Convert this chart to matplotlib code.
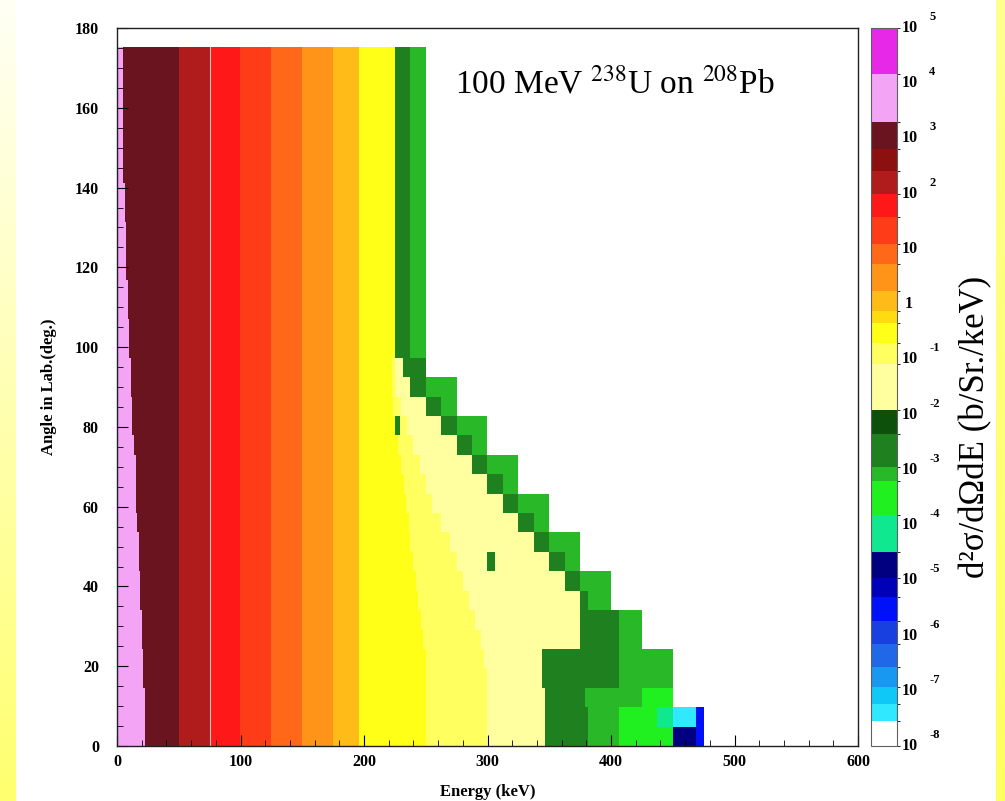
import numpy as np
import matplotlib
matplotlib.use("Agg")
import matplotlib.pyplot as plt
from matplotlib.colors import ListedColormap, BoundaryNorm, LinearSegmentedColormap
from matplotlib.cm import ScalarMappable

# ---------------------------------------------------------------- palette
# log10 boundaries of the palette steps (b/Sr./keV) and their colours
level_bounds = [-8, -7.55, -7.24, -6.94, -6.57, -6.16, -5.74, -5.31, -4.95,
                -4.49, -3.81, -3.21, -2.94, -2.36, -1.91, -1.08, -0.7, -0.35,
                -0.12, 0.24, 0.73, 1.09, 1.58, 2.0, 2.41, 2.81, 3.30, 4.17, 5]
level_colors = ['#ffffff', '#30e8ff', '#10c8f8', '#1898f0', '#2068e8',
                '#1840e0', '#0010f8', '#0000b8', '#000080', '#10e890',
                '#20f020', '#28b828', '#1e801e', '#0c500c', '#ffffa0',
                '#ffff60', '#ffff18', '#ffdc10', '#ffbc18', '#ff9418',
                '#ff6818', '#ff3c18', '#ff1818', '#b01c1c', '#8c1010',
                '#6a1420', '#f4a4f4', '#e828e8']

# ---------------------------------------------------------------- data
# angle rows: 36 bins from 0 to 175 deg, row 0 = most forward angles
n_rows = 36
angle_max = 175.0

# upper edge (keV) of the pink region in each row
pink_end = [23, 22.5, 22, 21.5, 21, 20, 19.5, 19, 18.5, 18, 17, 16.5,
            15.5, 15, 14.5, 13.5, 13, 12, 11.5, 11, 10.5, 10, 9, 8.5,
            8, 7.5, 7, 6.5, 6, 5, 5, 5, 5, 5, 5, 5]

# common energy bands (keV upper edge) and log10 cross section
band_upper = [50, 75, 100, 125, 150, 175, 196.25]
band_log = [3.0, 2.2, 1.8, 1.3, 0.9, 0.5, 0.0]

# yellow part: saturated up to yellow_end, lighter up to light_end,
# pale up to the start of the green edge cells
yellow_end = [250, 250, 250, 250, 250, 248, 246, 244, 242, 240, 238, 236,
              234, 232, 230, 228, 226, 224, 222, 222, 225, 225, 225, 225,
              225, 225, 225, 225, 225, 225, 225, 225, 225, 225, 225, 225]
light_end = [300, 300, 300, 300, 298, 295, 290, 285, 280, 275, 270, 262,
             255, 250, 245, 240, 235, 230, 226, 225, 225, 225, 225, 225,
             225, 225, 225, 225, 225, 225, 225, 225, 225, 225, 225, 225]
green_start = [346.25, 346.25, 346.25, 343.75, 343.75, 375, 375, 375,
               362.5, 350, 337.5, 325, 312.5, 300, 287.5, 275, 262.5,
               250, 237.5, 231.25, 225, 225, 225, 225, 225, 225, 225, 225,
               225, 225, 225, 225, 225, 225, 225, 225]
# cells along the kinematic edge: (upper edge keV, log10 value)
edge_cells = [
    [(381.25, -2.6), (406.25, -3.05), (450, -3.5), (468.75, -4.7), (475, -5.5)],
    [(381.25, -2.6), (406.25, -3.05), (437.5, -3.5), (450, -4.1), (468.75, -7.4), (475, -5.5)],
    [(378.75, -2.6), (425, -3.05), (450, -3.5)],
    [(406.25, -2.6), (450, -3.05)],
    [(406.25, -2.6), (450, -3.05)],
    [(406.25, -2.6), (425, -3.05)],
    [(406.25, -2.6), (425, -3.05)],
    [(381.25, -2.6), (400, -3.05)],
    [(375, -2.6), (400, -3.05)],
    [(362.5, -2.6), (375, -3.05)],
    [(350, -2.6), (375, -3.05)],
    [(337.5, -2.6), (350, -3.05)],
    [(325, -2.6), (350, -3.05)],
    [(312.5, -2.6), (325, -3.05)],
    [(300, -2.6), (325, -3.05)],
    [(287.5, -2.6), (300, -3.05)],
    [(275, -2.6), (300, -3.05)],
    [(262.5, -2.6), (275, -3.05)],
    [(250, -2.6), (275, -3.05)],
    [(250, -2.6)],
] + [[(237.5, -2.6), (250, -3.05)]] * 16
# isolated cells inside the pale region: (row, E from, E to, log10 value)
stray_cells = [(16, 225, 228.75, -2.6), (9, 300, 306.25, -2.6)]

# ---------------------------------------------------------------- grid
e_step = 1.25
e_edges = np.arange(0, 600 + e_step / 2, e_step)
e_mid = 0.5 * (e_edges[:-1] + e_edges[1:])
grid = np.full((n_rows, e_mid.size), np.nan)


def fill(row, e0, e1, val):
    grid[row, (e_mid >= e0) & (e_mid < e1)] = val


for r in range(n_rows):
    fill(r, 0.0, pink_end[r], 3.7)
    lo = pink_end[r]
    for up, v in zip(band_upper, band_log):
        fill(r, lo, up, v)
        lo = up
    fill(r, lo, yellow_end[r], -0.5)
    fill(r, yellow_end[r], light_end[r], -0.9)
    fill(r, light_end[r], green_start[r], -1.5)
    lo = green_start[r]
    for up, v in edge_cells[r]:
        fill(r, lo, up, v)
        lo = up
for r, e0, e1, v in stray_cells:
    fill(r, e0, e1, v)

# ---------------------------------------------------------------- figure
W, H = 1005, 801
fig = plt.figure(figsize=(W / 100, H / 100), dpi=100)
fig.patch.set_facecolor('white')

serif = ['Liberation Serif', 'DejaVu Serif']
plt.rcParams['font.family'] = serif
plt.rcParams['mathtext.fontset'] = 'stix'


def fx(px):
    return px / W


def fy(py):
    return 1 - py / H


# yellow page edges
strip_l = fig.add_axes([0, 0, fx(16), 1])
strip_l.imshow(np.linspace(0, 1, 50)[:, None], aspect='auto', origin='upper',
               cmap=LinearSegmentedColormap.from_list('edge', ['#fffff4', '#ffff70']),
               extent=[0, 1, 0, 1])
strip_l.axis('off')
strip_r = fig.add_axes([fx(996), 0, fx(9), 1])
strip_r.imshow(np.linspace(0, 1, 50)[:, None], aspect='auto', origin='upper',
               cmap=LinearSegmentedColormap.from_list('edge2', ['#ffff90', '#ffff60']),
               extent=[0, 1, 0, 1])
strip_r.axis('off')

cmap = ListedColormap(level_colors)
norm = BoundaryNorm(level_bounds, cmap.N)

x0, x1, y0, y1 = 117, 858, 28, 746
ax = fig.add_axes([fx(x0), fy(y1), fx(x1 - x0), (y1 - y0) / H])
ax.imshow(np.ma.masked_invalid(grid), origin='lower', aspect='auto',
          extent=[0, 600, 0, angle_max], interpolation='nearest',
          cmap=cmap, norm=norm)
ax.axvline(75, color='white', lw=0.8, alpha=0.7)
ax.set_xlim(0, 600)
ax.set_ylim(0, 180)
ax.set_xticks(np.arange(0, 601, 100))
ax.set_xticks(np.arange(0, 601, 20), minor=True)
ax.set_yticks(np.arange(0, 181, 20))
ax.set_yticks(np.arange(0, 181, 5), minor=True)
ax.tick_params(which='both', direction='in', top=False, right=False,
               labelsize=11.5)
ax.tick_params(axis='x', which='major', pad=6)
ax.tick_params(axis='y', which='major', pad=13)
ax.tick_params(which='major', length=8, width=0.8)
ax.tick_params(which='minor', length=4, width=0.6)
for lab in ax.get_xticklabels() + ax.get_yticklabels():
    lab.set_fontweight('bold')
for s in ax.spines.values():
    s.set_linewidth(1.0)
    s.set_color('#202020')
ax.set_xlabel('Energy (keV)', fontsize=12, fontweight='bold', labelpad=10)
ax.set_ylabel('Angle in Lab.(deg.)', fontsize=12, fontweight='bold', labelpad=13)
ax.text(274, 166, r'100 MeV $^{238}$U on $^{208}$Pb', fontsize=24,
        va='center', ha='left')

# colour bar
cax = fig.add_axes([fx(871), fy(y1), fx(26), (y1 - y0) / H])
cb = fig.colorbar(ScalarMappable(norm=norm, cmap=cmap), cax=cax,
                  spacing='proportional', ticks=[])
cb.outline.set_linewidth(0.8)
cb.outline.set_edgecolor('#606060')
for e in range(-8, 6):
    ypix = y0 + (5 - e) * (y1 - y0) / 13
    if e == 0:
        fig.text(fx(905), fy(ypix), '1', fontsize=11.5, fontweight='bold',
                 va='center', ha='left')
        continue
    fig.text(fx(902), fy(ypix), '10', fontsize=11.5, fontweight='bold',
             va='center', ha='left')
    if e != 1:
        fig.text(fx(929), fy(ypix - 11), str(e), fontsize=9, fontweight='bold',
                 va='center', ha='left')

fig.text(fx(976), fy(427), 'd²σ/dΩdE (b/Sr./keV)', rotation=90,
         fontsize=25, va='center', ha='center')

fig.savefig('out.png', dpi=100)
